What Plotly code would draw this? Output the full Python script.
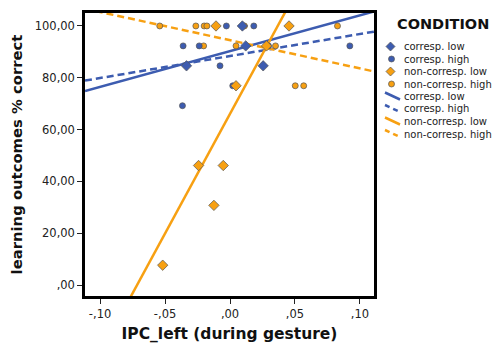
import plotly.graph_objects as go

# ---- data ----
cl_x = [0.0095, 0.0121, -0.0335, 0.0255]          # corresp. low
cl_y = [100.0, 92.31, 84.62, 84.62]
ch_x = [-0.0028, 0.0183, -0.0361, -0.0237, 0.0296, 0.0922, -0.0077, 0.0021, -0.0366]  # corresp. high
ch_y = [100.0, 100.0, 92.31, 92.31, 92.31, 92.31, 84.62, 76.92, 69.23]
nl_x = [-0.0108, 0.0454, 0.0281, 0.0046, -0.0242, -0.0052, -0.0124, -0.0518]  # non-corresp. low
nl_y = [100.0, 100.0, 92.31, 76.92, 46.15, 46.15, 30.77, 7.69]
nh_x = [-0.0541, -0.0263, -0.0199, -0.0178, 0.0111, 0.0827, -0.0203, 0.0046, 0.0350, 0.0502, 0.0567]  # non-corresp. high
nh_y = [100.0, 100.0, 100.0, 100.0, 100.0, 100.0, 92.31, 92.31, 92.31, 76.92, 76.92]

# fit lines (intercept, slope)
fit_cl = (90.3, 138.0)
fit_ch = (88.4, 85.0)
fit_nl = (66.1, 923.6)
fit_nh = (94.5, -108.8)

x_ticks = [-0.10, -0.05, 0.0, 0.05, 0.10]
x_ticklabels = ["-,10", "-,05", ",00", ",05", ",10"]
y_ticks = [0, 20, 40, 60, 80, 100]
y_ticklabels = [",00", "20,00", "40,00", "60,00", "80,00", "100,00"]

labels = ["corresp. low", "corresp. high", "non-corresp. low", "non-corresp. high"]

BLUE = "#3D5CB0"
ORANGE = "#F7A012"
XR = [-0.1116, 0.1108]
YR = [-4.2, 105.0]
DASH = "7px,4px"

fig = go.Figure()

def fit_trace(fit, color, dash):
    a, b = fit
    xs = [XR[0], XR[1]]
    ys = [a + b * x for x in xs]
    return go.Scatter(x=xs, y=ys, mode="lines", line=dict(color=color, width=2.5, dash=dash),
                      showlegend=False, hoverinfo="skip", cliponaxis=True)

fig.add_trace(fit_trace(fit_cl, BLUE, "solid"))
fig.add_trace(fit_trace(fit_ch, BLUE, DASH))
fig.add_trace(fit_trace(fit_nl, ORANGE, "solid"))
fig.add_trace(fit_trace(fit_nh, ORANGE, DASH))

mk_line = dict(color="#555555", width=0.7)
fig.add_trace(go.Scatter(x=nh_x, y=nh_y, mode="markers", marker=dict(symbol="circle", size=6, color=ORANGE, line=mk_line), showlegend=False))
fig.add_trace(go.Scatter(x=ch_x, y=ch_y, mode="markers", marker=dict(symbol="circle", size=6, color=BLUE, line=mk_line), showlegend=False))
fig.add_trace(go.Scatter(x=nl_x, y=nl_y, mode="markers", marker=dict(symbol="diamond", size=8, color=ORANGE, line=mk_line), showlegend=False))
fig.add_trace(go.Scatter(x=cl_x, y=cl_y, mode="markers", marker=dict(symbol="diamond", size=8, color=BLUE, line=mk_line), showlegend=False))

# ---- manual legend ----
# page body has an 8px margin, so the figure is offset by (8, 8) in the window
OFF = 8
W, H = 500 - OFF, 343 - OFF
L, R, T, B = 85, 374, 13, 296  # plot frame in window pixels
def px(x): return (x - L) / (R - L)
def py(y): return (B - y) / (B - T)

shapes = []
annotations = []
annotations.append(dict(x=px(443), y=py(24.5), xref="paper", yref="paper", text="<b>CONDITION</b>",
                        showarrow=False, font=dict(size=14.5, color="#111111", family="DejaVu Sans"),
                        xanchor="center", yanchor="middle"))
rows = [46.5, 59, 71.5, 84, 96.5, 109, 121.5, 134]
kinds = [("diamond", BLUE), ("circle", BLUE), ("diamond", ORANGE), ("circle", ORANGE),
         ("solid", BLUE), ("dash", BLUE), ("solid", ORANGE), ("dash", ORANGE)]
texts = labels + labels
for ry, (k, c), t in zip(rows, kinds, texts):
    if k == "diamond":
        gx, r = 390.5, 4.5
        path = f"M {px(gx)} {py(ry-r)} L {px(gx+r)} {py(ry)} L {px(gx)} {py(ry+r)} L {px(gx-r)} {py(ry)} Z"
        shapes.append(dict(type="path", xref="paper", yref="paper", path=path, fillcolor=c, line=dict(color="#555555", width=0.7)))
    elif k == "circle":
        gx, r = 391.5, 3
        shapes.append(dict(type="circle", xref="paper", yref="paper", x0=px(gx-r), x1=px(gx+r), y0=py(ry+r), y1=py(ry-r), fillcolor=c, line=dict(color="#555555", width=0.7)))
    else:
        shapes.append(dict(type="line", xref="paper", yref="paper", x0=px(385), y0=py(ry-4), x1=px(400), y1=py(ry+3),
                           line=dict(color=c, width=2.5, dash="5px,4px" if k == "dash" else "solid")))
    annotations.append(dict(x=px(402), y=py(ry), xref="paper", yref="paper", text=t,
                            showarrow=False, font=dict(size=10, color="#222222", family="DejaVu Sans"),
                            xanchor="left", yanchor="middle"))

fig.update_layout(
    width=W, height=H,
    margin=dict(l=L - OFF, r=500 - R, t=T - OFF, b=343 - B, autoexpand=False),
    paper_bgcolor="white", plot_bgcolor="white",
    showlegend=False,
    shapes=shapes, annotations=annotations,
    font=dict(family="DejaVu Sans", color="#222222"),
)
fig.update_xaxes(range=XR, tickvals=x_ticks, ticktext=x_ticklabels, ticks="outside", ticklen=5, tickwidth=1,
                 tickcolor="#222222", showgrid=False, zeroline=False, showline=True, linecolor="black", linewidth=2.5,
                 mirror=True, tickfont=dict(size=11.5, color="#222222"), automargin=False,
                 title=dict(text="<b>IPC_left (during gesture)</b>", font=dict(size=15.5, color="#111111"), standoff=9))
fig.update_yaxes(range=YR, tickvals=y_ticks, ticktext=y_ticklabels, ticks="outside", ticklen=5, tickwidth=1,
                 tickcolor="#222222", showgrid=False, zeroline=False, showline=True, linecolor="black", linewidth=2.5,
                 mirror=True, tickfont=dict(size=11.5, color="#222222"), automargin=False,
                 title=dict(text="<b>learning outcomes % correct</b>", font=dict(size=14.8, color="#111111"), standoff=10))

fig.write_html("out.html")
